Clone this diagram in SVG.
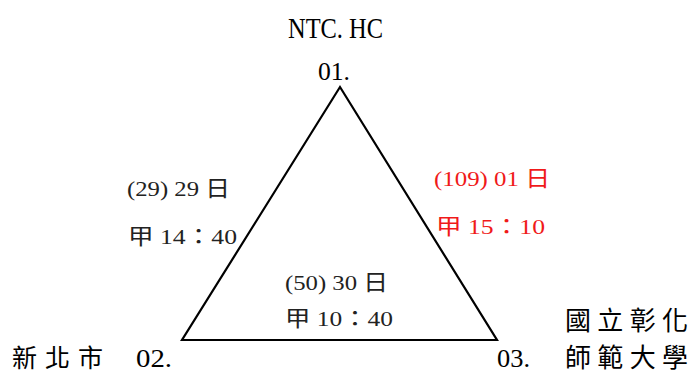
<svg xmlns="http://www.w3.org/2000/svg" width="692" height="373" viewBox="0 0 692 373">
<style>
.t{font-family:"Liberation Serif","Noto Sans CJK TC",serif;fill:#222;}
.c{font-family:"Liberation Serif","Noto Sans CJK TC",serif;fill:#000;}
.r{fill:#f01a1a;}
.edge{fill:none;stroke:#000;stroke-width:2.2;stroke-linejoin:miter;}
</style>
<rect width="692" height="373" fill="#fff"/>
<g id="connectors">
<path class="edge" d="M340,87 L182,340 L497,340 Z"/>
</g>
<g id="node01">
<text class="c" x="288" y="38" font-size="30" textLength="95" lengthAdjust="spacingAndGlyphs">NTC. HC</text>
<text class="c" x="318" y="80" font-size="26" textLength="32" lengthAdjust="spacingAndGlyphs">01.</text>
</g>
<g id="node02">
<text class="c" x="12" y="367" font-size="25" textLength="91" lengthAdjust="spacing">新北市</text>
<text class="c" x="136" y="367" font-size="25" textLength="36" lengthAdjust="spacingAndGlyphs">02.</text>
</g>
<g id="node03">
<text class="c" x="497" y="367" font-size="25" textLength="33" lengthAdjust="spacingAndGlyphs">03.</text>
<text class="c" x="565" y="330" font-size="26" textLength="123" lengthAdjust="spacing">國立彰化</text>
<text class="c" x="565" y="367" font-size="26" textLength="123" lengthAdjust="spacing">師範大學</text>
</g>
<g id="label-left">
<text class="t" x="127" y="196" font-size="22" textLength="103" lengthAdjust="spacingAndGlyphs">(29) 29 日</text>
<text class="t" x="128" y="244" font-size="22" textLength="109" lengthAdjust="spacingAndGlyphs">甲 14：40</text>
</g>
<g id="label-right">
<text class="t r" x="434" y="186" font-size="22" textLength="116" lengthAdjust="spacingAndGlyphs">(109) 01 日</text>
<text class="t r" x="436" y="234" font-size="22" textLength="109" lengthAdjust="spacingAndGlyphs">甲 15：10</text>
</g>
<g id="label-bottom">
<text class="t" x="285" y="290" font-size="22" textLength="103" lengthAdjust="spacingAndGlyphs">(50) 30 日</text>
<text class="t" x="285" y="326" font-size="22" textLength="108" lengthAdjust="spacingAndGlyphs">甲 10：40</text>
</g>
</svg>
